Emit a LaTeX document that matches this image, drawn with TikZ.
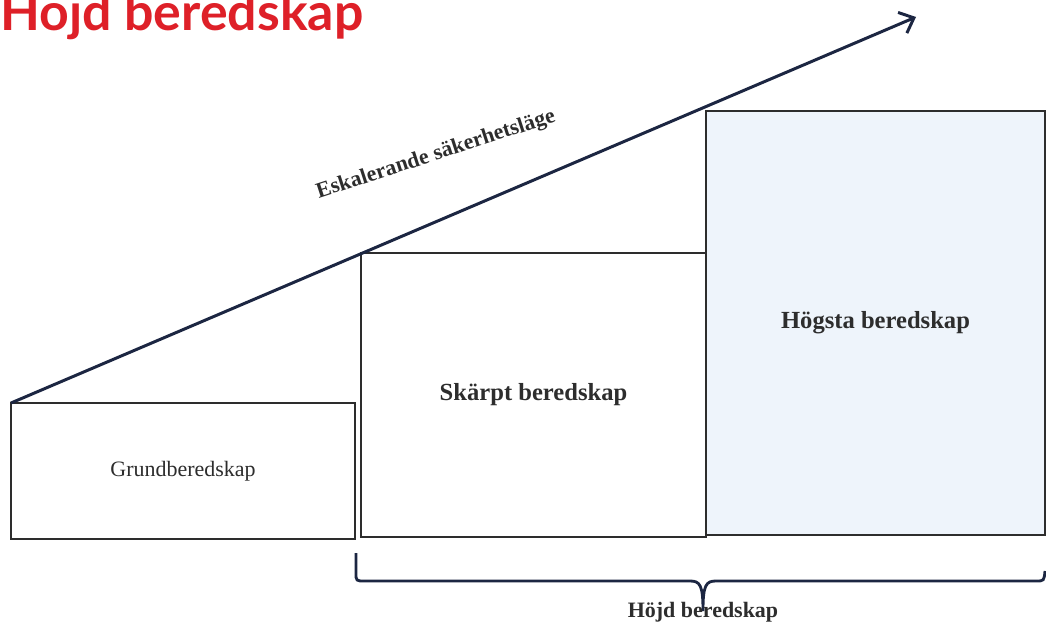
\documentclass[tikz,border=0pt]{standalone}
\usepackage{fontspec}
\setmainfont{Liberation Serif}
\newfontfamily\titlefont{Lato}
\usetikzlibrary{arrows.meta,positioning}

\definecolor{navy}{RGB}{28,38,66}
\definecolor{titlered}{RGB}{222,32,40}
\definecolor{paleblue}{RGB}{238,244,251}
\definecolor{boxgray}{RGB}{45,45,45}

\tikzset{
  box/.style={draw=boxgray, line width=1.1pt, fill=white, inner sep=0pt, outer sep=0pt},
  lvl/.style={font=\fontsize{14}{16}\selectfont\bfseries, text=boxgray},
  arrow/.style={draw=navy, line width=1.7pt, -{Straight Barb[length=2.5mm,width=4.5mm]}},
  brace/.style={draw=navy, line width=1.6pt}
}

\begin{document}
\begin{tikzpicture}[x=0.2mm,y=-0.2mm]
\useasboundingbox (0,0) rectangle (1046,629);
\node[anchor=base west, inner sep=0pt, text=titlered, font=\titlefont\fontsize{29.5}{31}\selectfont\bfseries] (title) at (0,31) {Höjd beredskap};

\node[box, minimum width=68.8mm, minimum height=27.2mm, anchor=north west, font=\fontsize{12.5}{14}\selectfont, text=boxgray] (grund) at (11,403) {Grundberedskap};
\node[box, lvl, minimum width=69mm, minimum height=56.8mm, anchor=north west] (skarpt) at (361,253) {Skärpt beredskap};
\node[box, lvl, fill=paleblue, minimum width=67.8mm, minimum height=84.8mm, anchor=north west] (hogsta) at (706,111) {Högsta beredskap};

\coordinate (top) at (916,17);
\draw[arrow] (grund.north west) -- (top);
\node[rotate=18, text=boxgray, font=\fontsize{12.5}{14}\selectfont\bfseries] (eskal) at (436,155) {Eskalerande säkerhetsläge};

% klammer
\coordinate (bl) at (356,553);
\coordinate (bm) at (703,611);
\coordinate (br) at (1045,571);
\draw[brace] (bl) -- (356,573) .. controls (356,581) .. (365,581) -- (690,581)
  .. controls (700,581) and (703,585) .. (bm)
  .. controls (703,585) and (706,581) .. (716,581) -- (1036,581)
  .. controls (1044,581) .. (br);
\node[text=boxgray, font=\fontsize{12.5}{14}\selectfont\bfseries] (hojd) at (703,612) {Höjd beredskap};
\end{tikzpicture}
\end{document}
